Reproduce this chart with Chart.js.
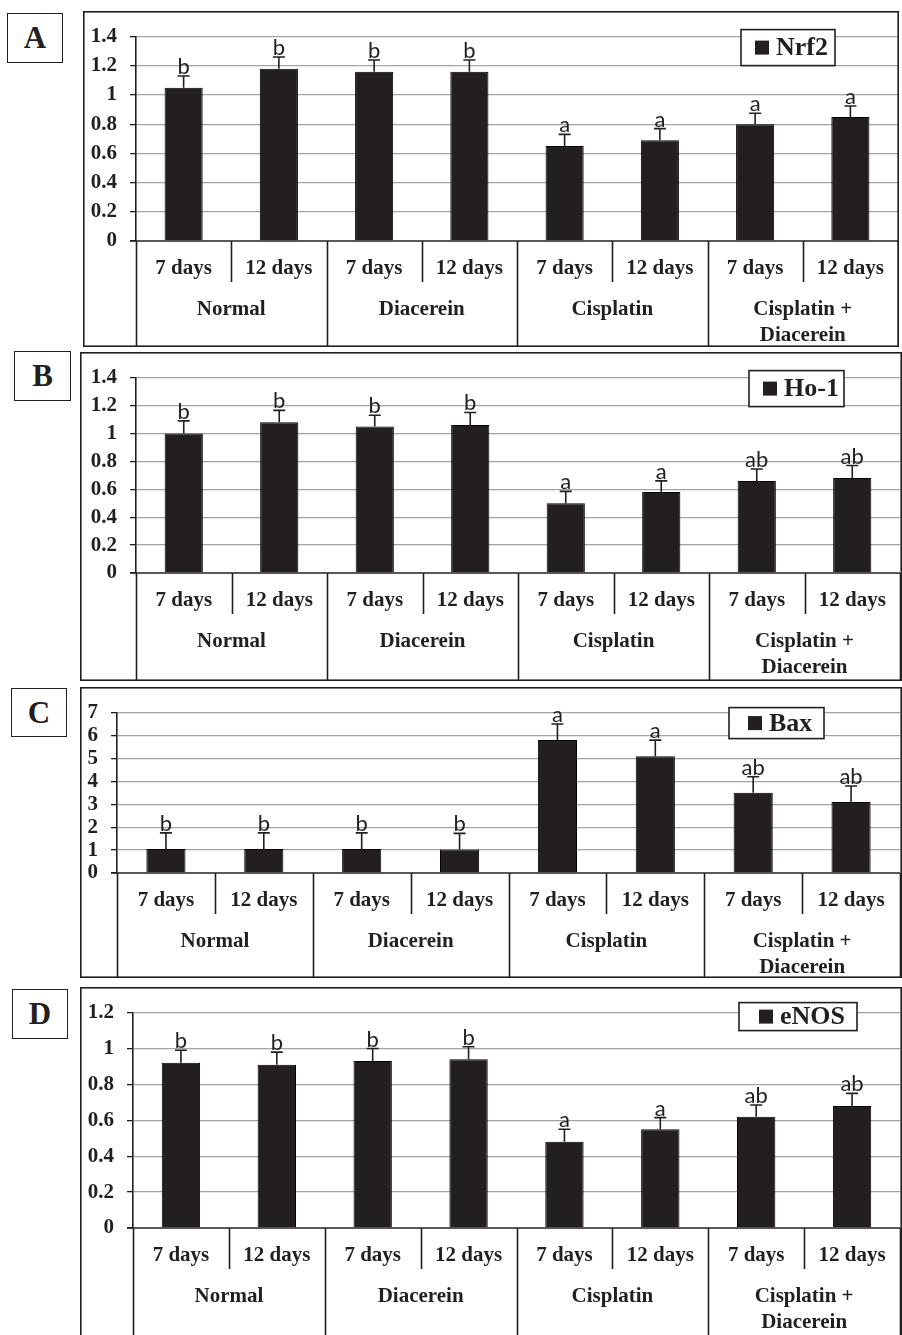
<!DOCTYPE html>
<html><head><meta charset="utf-8">
<script src="https://cdn.jsdelivr.net/npm/chart.js@4.4.1/dist/chart.umd.min.js"></script>
<style>
html,body{margin:0;padding:0;background:#fff;}
body{width:902px;height:1335px;position:relative;overflow:hidden;}
.panel{position:absolute;}
.panel canvas{display:block;}
.tag{position:absolute;border:1.5px solid #231f20;box-sizing:border-box;display:flex;align-items:center;justify-content:center;font:bold 31px "Liberation Serif",serif;color:#231f20;background:#fff;}
</style></head><body>
<div class="tag" style="left:7px;top:13px;width:56px;height:50px">A</div>
<div class="tag" style="left:14px;top:351px;width:57px;height:50px">B</div>
<div class="tag" style="left:11px;top:688px;width:56px;height:49px">C</div>
<div class="tag" style="left:12px;top:989px;width:56px;height:50px">D</div>
<div class="panel" style="left:83px;top:11px"><canvas id="cA" width="816" height="336"></canvas></div>
<div class="panel" style="left:80px;top:352px"><canvas id="cB" width="822" height="329"></canvas></div>
<div class="panel" style="left:80px;top:687px"><canvas id="cC" width="822" height="291"></canvas></div>
<div class="panel" style="left:80px;top:987px"><canvas id="cD" width="822" height="348"></canvas></div>
<script>
// ---- data ----
const categories = ["7 days","12 days","7 days","12 days","7 days","12 days","7 days","12 days"];
const groups = ["Normal","Diacerein","Cisplatin",["Cisplatin +","Diacerein"]];

const nrf2 = [1.05,1.18,1.16,1.16,0.65,0.69,0.80,0.85];
const nrf2Err = [0.08,0.08,0.08,0.08,0.08,0.08,0.075,0.075];
const nrf2Sig = ["b","b","b","b","a","a","a","a"];

const ho1 = [1.00,1.08,1.05,1.06,0.50,0.58,0.66,0.68];
const ho1Err = [0.09,0.085,0.08,0.09,0.085,0.08,0.085,0.09];
const ho1Sig = ["b","b","b","b","a","a","ab","ab"];

const bax = [1.05,1.05,1.05,1.03,5.8,5.1,3.5,3.1];
const baxErr = [0.7,0.7,0.7,0.7,0.7,0.7,0.7,0.7];
const baxSig = ["b","b","b","b","a","a","ab","ab"];

const enos = [0.92,0.91,0.93,0.94,0.48,0.55,0.62,0.68];
const enosErr = [0.07,0.07,0.07,0.07,0.07,0.065,0.065,0.07];
const enosSig = ["b","b","b","b","a","a","ab","ab"];

const ticks14 = [0,0.2,0.4,0.6,0.8,1,1.2,1.4];
const ticks7 = [0,1,2,3,4,5,6,7];
const ticks12 = [0,0.2,0.4,0.6,0.8,1,1.2];

// ---- drawing ----
const INK = '#231f20';
const SERIF = '"Liberation Serif","Times New Roman",serif';

const decor = {
  id: 'decor',
  afterDraw(chart) {
    const o = chart.options.plugins.decor;
    const {ctx, chartArea: ca, scales: {x, y}} = chart;
    const ds = chart.data.datasets[0];
    ctx.save();
    // outer frame
    ctx.strokeStyle = INK; ctx.lineWidth = 1.6;
    ctx.strokeRect(0.8, 0.8, chart.width - 1.6, o.openBottom ? chart.height + 20 : chart.height - 1.6);
    // zero axis line
    ctx.beginPath(); ctx.moveTo(ca.left - 6, ca.bottom); ctx.lineTo(ca.right, ca.bottom); ctx.stroke();
    // category table separators
    const n = categories.length;
    for (let i = 0; i <= n; i++) {
      let bx;
      if (i === 0) bx = ca.left; else if (i === n) bx = ca.right;
      else bx = (x.getPixelForValue(i - 1) + x.getPixelForValue(i)) / 2;
      const yEnd = (i % 2 === 0) ? chart.height + 5 : ca.bottom + 41;
      ctx.beginPath(); ctx.moveTo(Math.round(bx) + 0.5, ca.bottom); ctx.lineTo(Math.round(bx) + 0.5, yEnd); ctx.stroke();
    }
    // labels
    ctx.fillStyle = INK; ctx.textAlign = 'center'; ctx.textBaseline = 'middle';
    ctx.font = 'bold 21px ' + SERIF;
    for (let i = 0; i < n; i++) ctx.fillText(categories[i], x.getPixelForValue(i), ca.bottom + 28);
    for (let g = 0; g < groups.length; g++) {
      const cx = (x.getPixelForValue(2 * g) + x.getPixelForValue(2 * g + 1)) / 2;
      const lines = [].concat(groups[g]);
      lines.forEach((t, k) => ctx.fillText(t, cx, ca.bottom + 69 + k * 26));
    }
    // error bars + significance letters
    const meta = chart.getDatasetMeta(0);
    meta.data.forEach((el, i) => {
      const v = ds.data[i], e = o.err[i];
      const yTop = y.getPixelForValue(v + e);
      ctx.strokeStyle = INK; ctx.lineWidth = 1.6;
      ctx.beginPath(); ctx.moveTo(el.x, el.y); ctx.lineTo(el.x, yTop);
      ctx.moveTo(el.x - 6, yTop); ctx.lineTo(el.x + 6, yTop); ctx.stroke();
      ctx.fillStyle = INK; ctx.textAlign = 'center'; ctx.textBaseline = 'alphabetic';
      ctx.font = '22px Lato, "Open Sans", sans-serif';
      ctx.fillText(o.sig[i], el.x, yTop - 2);
    });
    // legend
    const L = o.legend;
    const bx = ca.right - L.gap - L.w, by = ca.top + L.dy;
    ctx.fillStyle = '#fff'; ctx.fillRect(bx, by, L.w, L.h);
    ctx.strokeStyle = INK; ctx.lineWidth = 1.6; ctx.strokeRect(bx, by, L.w, L.h);
    ctx.fillStyle = INK;
    ctx.fillRect(bx + L.padL, by + L.h / 2 - 7, 14, 14);
    ctx.font = 'bold 26px ' + SERIF; ctx.textAlign = 'left'; ctx.textBaseline = 'middle';
    ctx.fillText(ds.label, bx + L.padL + 21, by + L.h / 2 + 1);
    ctx.restore();
  }
};

function makePanel(id, p) {
  new Chart(document.getElementById(id), {
    type: 'bar',
    data: {
      labels: categories,
      datasets: [{
        label: p.label, data: p.values,
        backgroundColor: INK, borderColor: '#000', borderWidth: 1,
        barPercentage: 0.4, categoryPercentage: 1.0
      }]
    },
    options: {
      responsive: false, animation: false,
      layout: { padding: { left: 0, top: p.top, right: p.right, bottom: 0 } },
      plugins: {
        legend: { display: false }, tooltip: { enabled: false },
        decor: { err: p.err, sig: p.sig, legend: p.legend, openBottom: !!p.openBottom }
      },
      scales: {
        x: {
          type: 'category', offset: true,
          grid: { display: false, drawTicks: false },
          border: { display: false },
          ticks: { display: false },
          afterFit: s => { s.height = p.tableH; }
        },
        y: {
          min: 0, max: p.max,
          afterBuildTicks: s => { s.ticks = p.ticks.map(v => ({ value: v })); },
          afterFit: s => { s.width = p.axisW; },
          grid: {
            color: c => (c.tick && c.tick.value === 0) ? 'rgba(0,0,0,0)' : '#a3a3a3',
            lineWidth: 1.3, tickColor: INK, tickLength: 6, drawTicks: true
          },
          border: { display: true, color: INK, width: 1.6 },
          ticks: {
            padding: 13, color: INK, autoSkip: false,
            font: { family: SERIF, size: 21, weight: 'bold' },
            callback: v => String(v)
          }
        }
      }
    },
    plugins: [decor]
  });
}

makePanel('cA', { label: 'Nrf2', values: nrf2, err: nrf2Err, sig: nrf2Sig, ticks: ticks14, max: 1.4,
  axisW: 53, top: 14, right: 1, tableH: 106,
  legend: { gap: 63, dy: -7, w: 94, h: 36, padL: 14 } });
makePanel('cB', { label: 'Ho-1', values: ho1, err: ho1Err, sig: ho1Sig, ticks: ticks14, max: 1.4,
  axisW: 56, top: 13, right: 2, tableH: 108,
  legend: { gap: 56, dy: -7, w: 95, h: 36, padL: 14 } });
makePanel('cC', { label: 'Bax', values: bax, err: baxErr, sig: baxSig, ticks: ticks7, max: 7,
  axisW: 37, top: 13, right: 2, tableH: 105,
  legend: { gap: 76, dy: -5, w: 95, h: 31, padL: 19 } });
makePanel('cD', { label: 'eNOS', values: enos, err: enosErr, sig: enosSig, ticks: ticks12, max: 1.2,
  axisW: 53, top: 17, right: 2, tableH: 107, openBottom: true,
  legend: { gap: 43, dy: -10, w: 118, h: 28, padL: 20 } });
</script>
</body></html>
